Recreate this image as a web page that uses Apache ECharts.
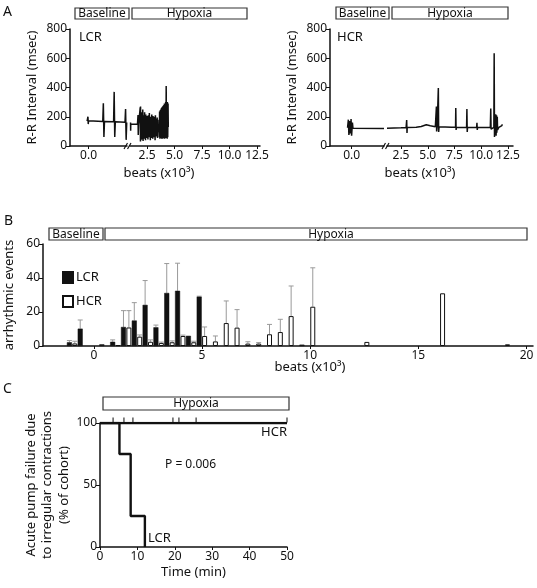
<!DOCTYPE html>
<html><head><meta charset="utf-8">
<script src="https://cdn.jsdelivr.net/npm/echarts@6/dist/echarts.min.js"></script>
<style>html,body{margin:0;padding:0;background:#fff}#c{width:537px;height:588px}</style>
</head><body><div id="c"></div>
<script>
// ---------- Panel A: R-R interval traces (beats in thousands, msec) ----------
const aYTicks = [0, 200, 400, 600, 800];
const aBaselineTicks = [0];
const aHypoxiaTicks = [2.5, 5, 7.5, 10, 12.5];
const lcrBaselineTrace = [[-0.05,170],[-0.02,200],[-0.01,150],[0.0,172],[0.02,170],[0.5,168],[0.52,292],[0.54,62],[0.56,168],[0.88,166],[0.9,370],[0.92,62],[0.94,166],[1.28,163],[1.3,253],[1.32,42],[1.34,160]];
const lcrHypoxiaTrace = [[1.0,160],[1.01,105],[1.02,150],[1.63,148],[1.68,212],[1.70,75],[1.73,145],[1.84,140],
 [1.88,265],[1.90,30],[1.91,270],[1.93,40],
 [1.95,200],[1.98,60],[2.00,230],[2.03,45],[2.06,190],[2.09,70],[2.11,250],[2.14,35],[2.17,210],[2.20,80],
 [2.22,195],[2.25,50],[2.28,230],[2.30,90],[2.33,200],[2.36,40],[2.39,215],[2.41,75],[2.44,190],[2.47,55],
 [2.50,205],[2.52,95],[2.55,185],[2.58,45],[2.61,210],[2.63,85],[2.66,195],[2.69,60],[2.71,225],[2.74,100],
 [2.77,190],[2.80,40],[2.82,200],[2.85,80],[2.88,185],[2.91,55],[2.93,215],[2.96,90],[2.99,195],[3.02,50],
 [3.04,205],[3.07,95],[3.10,180],[3.12,60],[3.15,200],[3.18,85],[3.21,190],[3.23,40],[3.26,210],[3.29,100],
 [3.32,185],[3.34,65],[3.37,175],[3.40,90],[3.42,195],[3.45,55],[3.48,180],[3.51,95],[3.53,150],[3.56,110],
 [3.59,140],[3.62,60],[3.64,235],[3.67,50],[3.70,245],[3.73,55],[3.75,250],[3.78,60],[3.81,260],[3.83,50],
 [3.86,265],[3.89,55],[3.92,270],[3.94,50],[3.97,275],[4.00,60],[4.03,280],[4.05,55],[4.08,290],[4.11,50],
 [4.13,285],[4.16,55],[4.19,300],[4.22,60],[4.24,410],[4.27,55],[4.30,295],[4.33,50],[4.35,300],[4.38,60],
 [4.41,290],[4.43,130]];
const hcrBaselineTrace = [[-0.15,125],[-0.12,180],[-0.1,75],[-0.07,170],[-0.04,85],[-0.02,185],[0.0,70],[0.03,160],[0.05,122],[1.2,120]];
const hcrHypoxiaTrace = [[1.19,122],[2.51,125],[2.98,127],[3.03,178],[3.06,89],[3.08,127],[3.92,128],[4.39,133],[4.86,145],[5.24,138],[5.71,132],[5.81,270],[5.83,100],[5.88,135],[5.99,397],[6.02,96],[6.06,132],[7.22,128],[7.60,128],[7.62,260],[7.65,110],[7.68,128],[8.63,127],[8.66,253],[8.69,96],[8.72,127],[9.57,127],[9.60,158],[9.63,110],[9.66,127],[10.85,128],[10.89,256],[10.92,115],[10.95,128],[11.18,128],[11.21,635],[11.24,62],[11.27,130],[11.35,217],[11.39,70],[11.43,210],[11.46,90],[11.50,200],[11.53,110],[11.65,128],[11.93,140],[11.98,148]];

// ---------- Panel B: arrhythmic events per 0.5k-beat bin ----------
const bXTicks = [0, 5, 10, 15, 20];
const lcrBeats = [-1.13,-0.63,0.37,0.87,1.37,1.87,2.37,2.87,3.37,3.87,4.37,4.87,9.62];
const lcrEvents = [2.2,10.2,1.0,2.5,11.2,15.0,24.2,11.0,31.2,32.5,6.0,29.0,0.8];
const lcrErrTop = [3.2,15.3,1.0,3.6,20.8,25.5,38.5,12.3,48.5,48.7,6.0,29.3,0.8];
const hcrBeats = [-0.88,1.12,1.62,2.12,2.62,3.12,3.62,4.12,4.62,5.12,5.62,6.12,6.62,7.12,7.62,8.12,8.62,9.12,10.12,12.62,16.12,19.12];
const hcrEvents = [1.5,0.5,10.9,5.5,2.5,1.8,2.2,5.9,2.2,5.9,2.7,13.5,10.8,1.4,1.4,6.9,8.2,17.6,23.1,2.4,31.0,1.0];
const hcrErrTop = [2.8,0.5,20.8,6.5,3.6,2.3,3.0,6.4,2.8,11.2,5.9,26.5,21.4,2.5,2.0,12.7,15.7,35.3,46.0,2.4,31.0,1.0];

// ---------- Panel C: acute pump failure (Kaplan-Meier) ----------
const lcrTimes = [0, 5.2, 8.2, 12];
const lcrPct = [100, 75, 25, 0];
const hcrTimes = [0, 50];
const hcrPct = [100, 100];
const hcrCensorTimes = [3.5, 6.4, 8.8, 19.5, 21.1, 25.7, 50];

const F = 'Noto Sans';
const K = '#111';
const zip = (a, b) => a.map((v, i) => [v, b[i]]);

const chart = echarts.init(document.getElementById('c'), null, {renderer: 'canvas'});

function xAx(grid, min, max, ticks, fmt, extra) {
  return Object.assign({
    type: 'value', gridIndex: grid, min: min, max: max,
    axisLine: {onZero: false, lineStyle: {color: K, width: 1.5}},
    axisTick: {customValues: ticks, length: 3, lineStyle: {color: K}},
    axisLabel: {customValues: ticks, formatter: fmt, color: K, fontFamily: F, fontSize: 12, margin: 4},
    splitLine: {show: false}
  }, extra || {});
}
function yAx(grid, min, max, interval, show, extra) {
  return Object.assign({
    type: 'value', gridIndex: grid, min: min, max: max, interval: interval, show: show,
    axisLine: {show: true, onZero: false, lineStyle: {color: K, width: 1.5}},
    axisTick: {show: true, length: 4, lineStyle: {color: K}},
    axisLabel: {color: K, fontFamily: F, fontSize: 12, margin: 3},
    splitLine: {show: false},
    nameTextStyle: {color: K, fontFamily: F, fontSize: 13}
  }, extra || {});
}
const f1 = v => v.toFixed(1);
const f0 = v => String(v);

function errSeries(xIdx, beats, vals, tops) {
  return {
    type: 'custom', xAxisIndex: xIdx, yAxisIndex: xIdx, z: 1, silent: true,
    data: beats.map((b, i) => [b, vals[i], tops[i]]),
    renderItem: (params, api) => {
      const x = api.value(0), lo = api.value(1), hi = api.value(2);
      if (hi <= lo) return null;
      const p1 = api.coord([x, lo]), p2 = api.coord([x, hi]);
      return {type: 'group', children: [
        {type: 'line', shape: {x1: p1[0], y1: p1[1], x2: p2[0], y2: p2[1]}, style: {stroke: '#9a9a9a', lineWidth: 1}},
        {type: 'line', shape: {x1: p2[0] - 2.5, y1: p2[1], x2: p2[0] + 2.5, y2: p2[1]}, style: {stroke: '#9a9a9a', lineWidth: 1}}
      ]};
    }
  };
}

function box(x, y, w, h, label, tx) {
  return {type: 'group', children: [
    {type: 'rect', shape: {x: x, y: y, width: w, height: h}, style: {fill: '#fff', stroke: '#333', lineWidth: 1.2}},
    {type: 'text', x: tx != null ? tx : x + w / 2, y: y + h / 2 + 0.5, style: {text: label, fill: K, font: '12px "Noto Sans"', align: 'center', verticalAlign: 'middle'}}
  ]};
}
function txt(x, y, s, size, align) {
  return {type: 'text', x: x, y: y, style: {text: s, fill: K, font: size + 'px "Noto Sans"', align: align || 'left', verticalAlign: 'middle'}};
}
function brk(x, y) {
  return {type: 'group', children: [
    {type: 'rect', shape: {x: x - 2, y: y - 3, width: 5, height: 6}, style: {fill: '#fff'}},
    {type: 'line', shape: {x1: x - 3, y1: y + 3, x2: x + 0.5, y2: y - 3}, style: {stroke: K, lineWidth: 1.2}},
    {type: 'line', shape: {x1: x + 0.5, y1: y + 3, x2: x + 4, y2: y - 3}, style: {stroke: K, lineWidth: 1.2}}
  ]};
}

const traceStyle = {type: 'line', symbol: 'none', lineStyle: {color: K, width: 1.5}, animation: false};

chart.setOption({
  animation: false,
  textStyle: {fontFamily: F},
  grid: [
    {left: 70, top: 29, width: 57, height: 117, outerBoundsMode: 'none'},
    {left: 130, top: 29, width: 130, height: 117, outerBoundsMode: 'none'},
    {left: 330, top: 29, width: 54, height: 117, outerBoundsMode: 'none'},
    {left: 387, top: 29, width: 126, height: 117, outerBoundsMode: 'none'},
    {left: 43, top: 244, width: 490, height: 102, outerBoundsMode: 'none'},
    {left: 100, top: 423, width: 187, height: 124, outerBoundsMode: 'none'}
  ],
  xAxis: [
    xAx(0, -0.65, 1.35, aBaselineTicks, f1),
    xAx(1, 0.95, 12.77, aHypoxiaTicks, f1),
    xAx(2, -0.8, 1.2, aBaselineTicks, f1),
    xAx(3, 1.19, 12.97, aHypoxiaTicks, f1),
    xAx(4, -2.35, 20.3, bXTicks, f0),
    {type: 'value', gridIndex: 5, min: 0, max: 50, interval: 10,
     axisLine: {onZero: false, lineStyle: {color: K, width: 1.5}},
     axisTick: {length: 3, lineStyle: {color: K}},
     axisLabel: {color: K, fontFamily: F, fontSize: 12, margin: 4},
     splitLine: {show: false},
     name: 'Time (min)', nameLocation: 'middle', nameGap: 19,
     nameTextStyle: {color: K, fontFamily: F, fontSize: 13}}
  ],
  yAxis: [
    yAx(0, 0, 800, 200, true, {name: 'R-R Interval (msec)', nameLocation: 'middle', nameGap: 31}),
    yAx(1, 0, 800, 200, false),
    yAx(2, 0, 800, 200, true, {name: 'R-R Interval (msec)', nameLocation: 'middle', nameGap: 31}),
    yAx(3, 0, 800, 200, false),
    yAx(4, 0, 60, 20, true, {name: 'arrhythmic events', nameLocation: 'middle', nameGap: 18}),
    yAx(5, 0, 100, 50, true, {name: 'Acute pump failure due\nto irregular contractions\n(% of cohort)', nameLocation: 'middle', nameGap: 27,
      nameTextStyle: {color: K, fontFamily: F, fontSize: 13, lineHeight: 16.5}})
  ],
  legend: {
    data: ['LCR', 'HCR'], orient: 'vertical', left: 57, top: 266, itemWidth: 10, itemHeight: 11, itemGap: 11,
    icon: 'rect', textStyle: {color: K, fontFamily: F, fontSize: 13, padding: [0, 0, 0, -2]}, selectedMode: false
  },
  series: [
    Object.assign({}, traceStyle, {xAxisIndex: 0, yAxisIndex: 0, data: lcrBaselineTrace}),
    Object.assign({}, traceStyle, {xAxisIndex: 1, yAxisIndex: 1, data: lcrHypoxiaTrace}),
    Object.assign({}, traceStyle, {xAxisIndex: 2, yAxisIndex: 2, data: hcrBaselineTrace}),
    Object.assign({}, traceStyle, {xAxisIndex: 3, yAxisIndex: 3, data: hcrHypoxiaTrace}),
    {name: 'LCR', type: 'bar', xAxisIndex: 4, yAxisIndex: 4, barWidth: 5, barGap: '-100%',
     itemStyle: {color: K, borderColor: K, borderWidth: 0.5}, data: zip(lcrBeats, lcrEvents), z: 3},
    {name: 'HCR', type: 'bar', xAxisIndex: 4, yAxisIndex: 4, barWidth: 5, barGap: '-100%',
     itemStyle: {color: '#fff', borderColor: K, borderWidth: 1}, data: zip(hcrBeats, hcrEvents), z: 3},
    errSeries(4, lcrBeats, lcrEvents, lcrErrTop),
    errSeries(4, hcrBeats, hcrEvents, hcrErrTop),
    {type: 'line', xAxisIndex: 5, yAxisIndex: 5, symbol: 'none', data: zip(hcrTimes, hcrPct),
     lineStyle: {color: K, width: 2.4}, z: 3},
    {type: 'line', xAxisIndex: 5, yAxisIndex: 5, symbol: 'none', step: 'end', data: zip(lcrTimes, lcrPct),
     lineStyle: {color: K, width: 2.4}, z: 3},
    {type: 'scatter', xAxisIndex: 5, yAxisIndex: 5, symbol: 'rect', symbolSize: [1.3, 5], symbolOffset: [0, -3],
     itemStyle: {color: K}, data: hcrCensorTimes.map(t => [t, 100]), z: 4}
  ],
  graphic: [
    txt(3, 12, 'A', 14), txt(4, 221, 'B', 14), txt(3, 389, 'C', 14),
    box(75, 8, 54, 11, 'Baseline'), box(132, 8, 115, 11, 'Hypoxia'),
    box(336, 7, 53, 12, 'Baseline'), box(392, 7, 116, 12, 'Hypoxia'),
    txt(79, 37, 'LCR', 13), txt(337, 37, 'HCR', 13),
    txt(159, 173, 'beats (x10\u00B3)', 13, 'center'), txt(420, 173, 'beats (x10\u00B3)', 13, 'center'),
    brk(127, 146), brk(385, 146),
    box(49, 228, 54, 12, 'Baseline'), box(105, 228, 422, 12, 'Hypoxia', 331),
    txt(310, 367, 'beats (x10\u00B3)', 13, 'center'),
    box(103, 397, 186, 13, 'Hypoxia'),
    txt(287, 432, 'HCR', 13, 'right'), txt(148, 538, 'LCR', 13), txt(165, 465, 'P = 0.006', 12)
  ]
});
</script></body></html>
